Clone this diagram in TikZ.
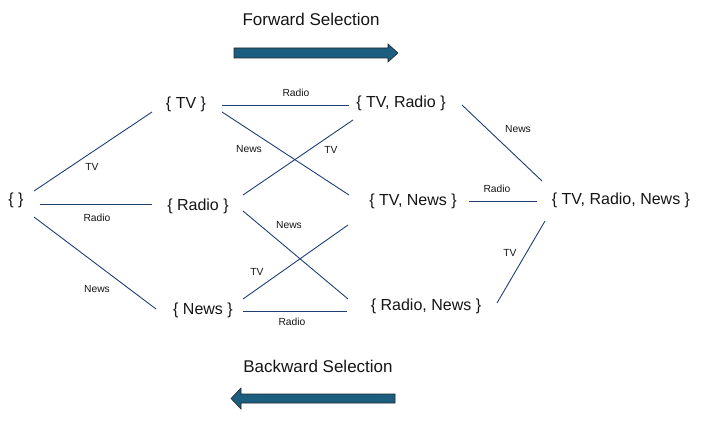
\documentclass[tikz,border=0pt]{standalone}
\usepackage{fontspec}
\setmainfont{Liberation Sans}
\definecolor{linec}{HTML}{1F3F73}
\definecolor{arrowc}{HTML}{1B5E80}
\definecolor{txtc}{HTML}{151515}
\begin{document}
\begin{tikzpicture}[x=1pt,y=-1pt,
  setnode/.style={inner sep=0pt,text=txtc,font=\fontsize{16}{19}\selectfont},
  lbl/.style={inner sep=0pt,text=txtc,font=\fontsize{10.3}{12}\selectfont},
  title/.style={inner sep=0pt,text=txtc,font=\fontsize{17}{20}\selectfont},
  conn/.style={draw=linec,line width=0.9pt},
  bigarrow/.style={fill=arrowc,draw=black!85,line width=0.6pt,line join=miter}]
\useasboundingbox (0,0) rectangle (720,436);
% nodes
\node[setnode] (e) at (16,200) {\{ \}};
\node[setnode] (tv) at (186,104) {\{ TV \}};
\node[setnode] (r) at (198,206) {\{ Radio \}};
\node[setnode] (n) at (203,310) {\{ News \}};
\node[setnode] (tr) at (401,103) {\{ TV, Radio \}};
\node[setnode] (tn) at (413,201) {\{ TV, News \}};
\node[setnode] (rn) at (426,306) {\{ Radio, News \}};
\node[setnode] (all) at (621,200) {\{ TV, Radio, News \}};
% connectors
\draw[conn] ([shift={(18,-9)}]e.center) -- ([shift={(-34,8)}]tv.center);
\draw[conn] ([shift={(24,4)}]e.center) -- ([shift={(-46,-2)}]r.center);
\draw[conn] ([shift={(18,17)}]e.center) -- ([shift={(-47,-1)}]n.center);
\draw[conn] ([shift={(36,1)}]tv.center) -- ([shift={(-52,2)}]tr.center);
\draw[conn] ([shift={(36,8)}]tv.center) -- ([shift={(-64,-6)}]tn.center);
\draw[conn] ([shift={(45,-11)}]r.center) -- ([shift={(-48,17)}]tr.center);
\draw[conn] ([shift={(45,5)}]r.center) -- ([shift={(-78,-7)}]rn.center);
\draw[conn] ([shift={(40,-11)}]n.center) -- ([shift={(-65,24)}]tn.center);
\draw[conn] ([shift={(40,1)}]n.center) -- ([shift={(-79,5)}]rn.center);
\draw[conn] ([shift={(61,2)}]tr.center) -- ([shift={(-79,-19)}]all.center);
\draw[conn] ([shift={(56,0)}]tn.center) -- ([shift={(-84,1)}]all.center);
\draw[conn] ([shift={(71,-3)}]rn.center) -- ([shift={(-76,21)}]all.center);
% labels
\node[lbl] (l1) at (92,167) {TV};
\node[lbl] (l2) at (97,218) {Radio};
\node[lbl] (l3) at (97,289) {News};
\node[lbl] (l4) at (296,93) {Radio};
\node[lbl] (l5) at (249,149) {News};
\node[lbl] (l6) at (331,150) {TV};
\node[lbl] (l7) at (289,225) {News};
\node[lbl] (l8) at (257,272) {TV};
\node[lbl] (l9) at (292,322) {Radio};
\node[lbl] (l10) at (518,129) {News};
\node[lbl] (l11) at (497,189) {Radio};
\node[lbl] (l12) at (510,253) {TV};
% titles and arrows
\node[title] (fwd) at (311,19) {Forward Selection};
\node[title] (bwd) at (318,366) {Backward Selection};
\draw[bigarrow] (234,48) -- (388,48) -- (388,44) -- (398,53) -- (388,62) -- (388,58) -- (234,58) -- cycle;
\draw[bigarrow] (395,394) -- (241,394) -- (241,388) -- (231,398.5) -- (241,409) -- (241,403) -- (395,403) -- cycle;
\end{tikzpicture}
\end{document}
